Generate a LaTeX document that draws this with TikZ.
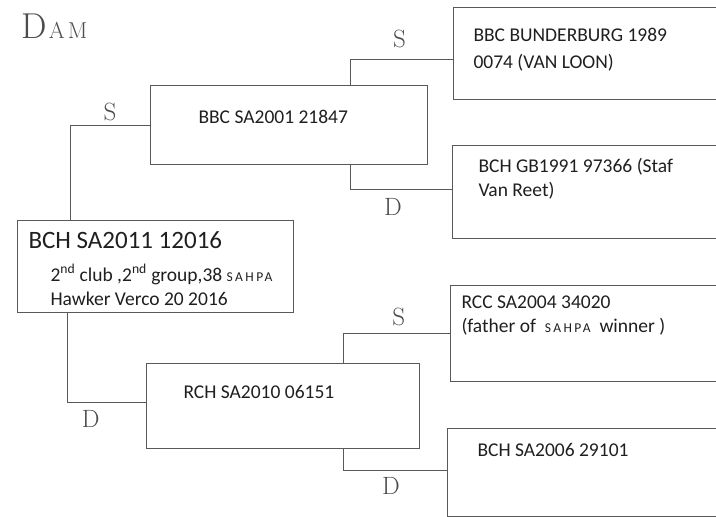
\documentclass[tikz,border=0pt]{standalone}
\usepackage{fontspec}
\setsansfont{Carlito}

\newcommand{\sahpa}{{\fontsize{13.5}{14}\selectfont\addfontfeatures{LetterSpace=18}SAHPA}}

\begin{document}
\begin{tikzpicture}[x=1pt, y=-1pt, line width=1pt, draw=black!65,
    bird/.style={draw, rectangle, inner sep=0pt, anchor=north west},
    open/.style={rectangle, inner sep=0pt, anchor=north west},
    txt/.style={font=\sffamily\fontsize{19.5}{23.5}\selectfont, text=black!88,
      anchor=base west, inner sep=0pt, align=left},
    hand/.style={font=\fontsize{25}{25}\selectfont, text=black!70}]
  \useasboundingbox (0,0) rectangle (716,517);

  \node[font=\fontsize{36}{36}\selectfont, text=black!70, anchor=base west, inner sep=0pt]
    (title) at (21,38) {D\kern2pt\fontsize{23}{23}\selectfont A\kern3pt M};

  \node[bird, minimum width=276pt, minimum height=92pt] (dam) at (17,220) {};
  \node[bird, minimum width=277pt, minimum height=79pt] (sire) at (150,85) {};
  \node[bird, minimum width=273pt, minimum height=85pt] (damdam) at (146,363) {};
  \node[open, minimum width=263pt, minimum height=91pt] (ss) at (453,7) {};
  \node[open, minimum width=264pt, minimum height=92pt] (sd) at (452,145) {};
  \node[open, minimum width=266pt, minimum height=95pt] (ds) at (450,285) {};
  \node[open, minimum width=269pt, minimum height=87pt] (dd) at (447,428) {};
  \foreach \b in {ss,sd,ds,dd}
    \draw (\b.north east) -- (\b.north west) -- (\b.south west) -- (\b.south east);

  \node[txt] (damname) at (28,248) {\fontsize{25}{30}\selectfont BCH SA2011 12016};
  \node[txt] (damnote) at (50,305) {2\textsuperscript{nd} club ,2\textsuperscript{nd} group,38 \sahpa\\Hawker Verco 20 2016};
  \node[txt] (sirename) at (198,123) {BBC SA2001 21847};
  \node[txt] (damdamname) at (183,398) {RCH SA2010 06151};
  \node[txt] (ssname) at (473,68) {BBC BUNDERBURG 1989\\[3.5pt]0074 (VAN LOON)};
  \node[txt] (sdname) at (478,196) {BCH GB1991 97366 (Staf\\Van Reet)};
  \node[txt] (dsname) at (461,332) {RCC SA2004 34020\\(father of \ \sahpa\ \ winner )};
  \node[txt] (ddname) at (477,456) {BCH SA2006 29101};

  \draw ([xshift=53pt]dam.north west) |- (sire.west) node[hand, pos=0.75, above=0pt] {S};
  \draw ([xshift=50pt]dam.south west) |- ([yshift=4pt]damdam.west) node[hand, pos=0.65, below=5pt] {D};
  \draw ([xshift=200pt]sire.north west) |- ([yshift=-6pt]ss.west) node[hand, pos=0.74, above=7pt] {S};
  \draw ([xshift=200pt]sire.south west) |- ([yshift=2pt]sd.west) node[hand, pos=0.71, below=5pt] {D};
  \draw ([xshift=197pt]damdam.north west) |- (ds.west) node[hand, pos=0.76, above=3pt] {S};
  \draw ([xshift=197pt]damdam.south west) |- ([yshift=2pt]dd.west) node[hand, pos=0.73, below=4pt] {D};
\end{tikzpicture}
\end{document}
